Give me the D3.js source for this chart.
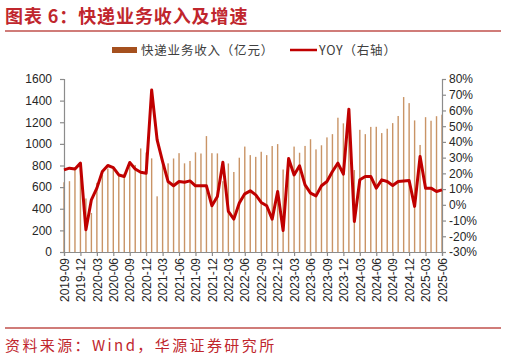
<!DOCTYPE html>
<html>
<head>
<meta charset="utf-8">
<script src="https://cdn.jsdelivr.net/npm/d3@7"></script>
<style>
  body { margin: 0; background: #fff; }
  svg { display: block; }
</style>
</head>
<body>
<script>
var w = 506, h = 362;

// monthly data, 2019-09 .. 2025-06
var months = [];
for (var y = 2019; y <= 2025; y++) {
  for (var m = 1; m <= 12; m++) {
    if (y == 2019 && m < 9) continue;
    if (y == 2025 && m > 6) continue;
    months.push(y + "-" + (m < 10 ? "0" + m : m));
  }
}

var revenue = [645, 655, 785, 766, 495, 361, 640, 714, 772, 790, 717, 725,
  822, 805, 958, 920, 866, 515, 830, 820, 865, 914, 820, 842,
  922, 911, 1072, 914, 912, 655, 819, 740, 872, 975, 896, 880,
  927, 896, 980, 998, 763, 850, 975, 918, 981, 1043, 949, 987,
  1060, 1090, 1242, 1190, 1227, 758, 1130, 1090, 1157, 1158, 1100, 1140,
  1192, 1258, 1433, 1377, 1217, 990, 1247, 1214, 1256, 1270];

var yoy = [22.2, 23.3, 22.8, 26.5, -15.9, 3.2, 10.6, 21.2, 25.0, 23.7, 19.0, 18.0,
  26.9, 22.8, 20.7, 20.1, 73.0, 41.3, 27.5, 14.8, 12.1, 14.8, 14.4, 15.2,
  12.1, 12.1, 12.1, -0.6, 5.3, 27.1, -4.2, -9.1, 1.1, 7.0, 8.9, 6.3,
  1.5, -0.6, -9.1, 8.5, -16.3, 29.4, 19.0, 24.8, 12.7, 7.4, 5.7, 12.1,
  14.8, 21.2, 26.5, 19.5, 60.8, -10.6, 15.9, 18.0, 18.0, 10.6, 15.9, 14.8,
  12.3, 14.8, 15.2, 15.5, -1.0, 30.7, 10.6, 10.6, 8.5, 9.5];

var leftTicks = [0, 200, 400, 600, 800, 1000, 1200, 1400, 1600];
var rightTicks = [-30, -20, -10, 0, 10, 20, 30, 40, 50, 60, 70, 80];
var xTicks = months.filter(function(d, i) { return i % 3 == 0; });

var red = "#c00000";
var cnFont = "'Noto Sans CJK SC', sans-serif";
var numFont = "'Liberation Sans', Arial, sans-serif";

var svg = d3.select("body").append("svg")
  .attr("width", w)
  .attr("height", h);

// title + rules
svg.append("text")
  .attr("x", 5).attr("y", 23)
  .attr("fill", "#c0262d")
  .attr("font-family", cnFont)
  .attr("font-weight", "bold")
  .attr("font-size", 18)
  .attr("letter-spacing", 0.9)
  .text("图表 6：快递业务收入及增速");

svg.append("line")
  .attr("x1", 5).attr("x2", 501).attr("y1", 31).attr("y2", 31)
  .attr("stroke", "#c0504d").attr("stroke-width", 1.5);

svg.append("line")
  .attr("x1", 5).attr("x2", 501).attr("y1", 328).attr("y2", 328)
  .attr("stroke", "#c0504d").attr("stroke-width", 1.5);

svg.append("text")
  .attr("x", 5).attr("y", 351)
  .attr("fill", "#c0262d")
  .attr("font-family", cnFont)
  .attr("font-size", 15)
  .attr("letter-spacing", 2.4)
  .text("资料来源：Wind，华源证券研究所");

// legend
svg.append("rect")
  .attr("x", 112).attr("y", 47).attr("width", 25).attr("height", 6)
  .attr("fill", "#a5501e");
svg.append("text")
  .attr("x", 141).attr("y", 54.5)
  .attr("font-family", cnFont).attr("font-size", 12.5).attr("fill", "#404040")
  .attr("letter-spacing", 0.8)
  .text("快递业务收入（亿元）");
svg.append("line")
  .attr("x1", 290).attr("x2", 317).attr("y1", 50).attr("y2", 50)
  .attr("stroke", red).attr("stroke-width", 2.5);
svg.append("text")
  .attr("x", 319).attr("y", 54.5)
  .attr("font-family", cnFont).attr("font-size", 12.5).attr("fill", "#404040")
  .attr("letter-spacing", 0.8)
  .text("YOY（右轴）");

// scales
var x = d3.scalePoint()
  .domain(months)
  .range([64, 442]);

var y = d3.scaleLinear()
  .domain([0, 1600])
  .range([252, 79]);

var y2 = d3.scaleLinear()
  .domain([-30, 80])
  .range([252, 79]);

// bars
svg.append("g").selectAll("rect")
  .data(revenue)
  .enter().append("rect")
  .attr("x", function(d, i) { return x(months[i]) - 0.7; })
  .attr("y", function(d) { return y(d); })
  .attr("width", 1.4)
  .attr("height", function(d) { return y(0) - y(d); })
  .attr("fill", "#c99466");

// axes
var axisColor = "#8c8c8c";

var gl = svg.append("g")
  .attr("transform", "translate(64,0)")
  .call(d3.axisLeft(y).tickValues(leftTicks).tickSize(4).tickPadding(8)
    .tickFormat(d3.format("d")));

var gr = svg.append("g")
  .attr("transform", "translate(442,0)")
  .call(d3.axisRight(y2).tickValues(rightTicks).tickSize(4).tickPadding(3)
    .tickFormat(function(d) { return d + "%"; }));

var gx = svg.append("g")
  .attr("transform", "translate(0,252)")
  .call(d3.axisBottom(x).tickValues(xTicks).tickSize(4));

gx.selectAll("text")
  .attr("transform", "rotate(-90)")
  .attr("x", -6).attr("y", 0).attr("dy", "0.35em")
  .style("text-anchor", "end");

[gl, gr, gx].forEach(function(g) {
  g.select(".domain").attr("stroke", axisColor).attr("stroke-width", 1.2);
  g.selectAll(".tick line").attr("stroke", axisColor).attr("stroke-width", 1.2);
  g.selectAll("text")
    .attr("font-family", numFont)
    .attr("font-size", 12)
    .attr("fill", "#262626");
});

// yoy line
var line = d3.line()
  .x(function(d, i) { return x(months[i]); })
  .y(function(d) { return y2(d); });

svg.append("path")
  .datum(yoy)
  .attr("d", line)
  .attr("fill", "none")
  .attr("stroke", red)
  .attr("stroke-width", 3)
  .attr("stroke-linejoin", "round");
</script>
</body>
</html>
